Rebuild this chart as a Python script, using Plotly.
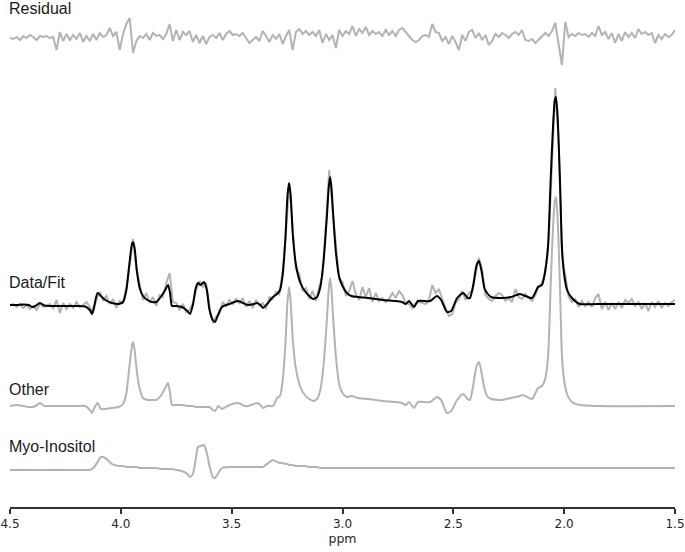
import numpy as np
import plotly.graph_objects as go

# chemical shift axis of the smooth traces (fit and model components), ppm
smooth_ppm = [
    4.500, 4.470, 4.440, 4.415, 4.400, 4.385, 4.365, 4.345, 4.320, 4.250,
    4.200, 4.160, 4.140, 4.130, 4.120, 4.105, 4.090, 4.070, 4.040, 4.010,
    3.990, 3.975, 3.962, 3.950, 3.945, 3.938, 3.928, 3.915, 3.900, 3.880,
    3.860, 3.840, 3.820, 3.800, 3.787, 3.778, 3.769, 3.750, 3.724, 3.700,
    3.688, 3.675, 3.662, 3.652, 3.640, 3.625, 3.612, 3.600, 3.585, 3.575,
    3.560, 3.544, 3.510, 3.471, 3.440, 3.426, 3.400, 3.386, 3.370, 3.359,
    3.340, 3.314, 3.295, 3.282, 3.270, 3.258, 3.248, 3.241, 3.234, 3.224,
    3.210, 3.190, 3.170, 3.150, 3.133, 3.115, 3.100, 3.085, 3.070, 3.062,
    3.056, 3.050, 3.042, 3.030, 3.015, 3.000, 2.980, 2.960, 2.930, 2.885,
    2.820, 2.760, 2.732, 2.715, 2.700, 2.677, 2.660, 2.605, 2.574, 2.555,
    2.529, 2.510, 2.483, 2.456, 2.435, 2.425, 2.410, 2.395, 2.384, 2.372,
    2.360, 2.348, 2.330, 2.280, 2.240, 2.200, 2.186, 2.145, 2.118, 2.100,
    2.087, 2.073, 2.061, 2.050, 2.042, 2.037, 2.030, 2.019, 2.010, 2.001,
    1.987, 1.965, 1.929, 1.850, 1.500,
]

fit = [
    0, 0, 0.5, 0, -2, -1, 2, -0.5, -1, -1,
    -1, -1.5, -5, -9, -1, 12, 9, 5, 2, 1,
    3, 15, 40, 61, 63, 57, 35, 17, 9, 5,
    3, 3, 8, 15, 20, 12, -1, -1, -2, -6,
    -9, 0, 17, 22, 20, 23, 15, -5, -15, -17,
    -9, -2, 1, 4, 1, 0, 1, 2, 0, -3,
    1, 8, 11, 15, 30, 65, 110, 122, 110, 70,
    40, 22, 14, 9, 6, 8, 18, 45, 90, 118,
    128, 118, 90, 53, 28, 19, 12, 9, 8, 7,
    5, 4, 3, 1, 4, -2, 4, 4, 9, 5,
    -7, -6, 7, 12, 7, 7, 20, 40, 44, 33,
    17, 12, 8, 7, 8, 11, 10, 7, 18, 20,
    32, 58, 125, 180, 205, 208, 190, 125, 58, 32,
    15, 7, 1, 1, 1,
]

other = [
    0, 1, 0, -1, -1, 0, 3, 0, 0, 0,
    0, 0, -4, -7, -2, 3, -3, -3, -2, -1,
    2, 13, 38, 60, 64, 56, 35, 17, 8, 6,
    6, 6, 10, 18, 23, 13, 1, 1, 1, 0,
    0, 0, -1, -1, -1, -1, -1, -1, -4, -5,
    0, -3, 1, 3, 0, 0, 2, 3, 1, -2,
    0, 0, 8, 10, 25, 60, 105, 119, 105, 65,
    37, 19, 11, 7, 5, 7, 16, 42, 88, 117,
    128, 117, 88, 50, 22, 13, 9, 10, 8, 7,
    5, 4, 3, 1, 4, -2, 4, 4, 9, 6,
    -7, -5, 6, 12, 7, 6, 21, 40, 44, 32,
    18, 10, 7, 6, 8, 10, 11, 7, 18, 20,
    26, 48, 120, 180, 205, 209, 190, 120, 50, 27,
    12, 4, 1, 0, 0,
]

myo_inositol = [
    -1, -1, -1, -1, -1, -1, -1, -1, -1, -1,
    -1, -1, -1, 0, 2, 7, 12, 11, 5, 3,
    3, 2, 2, 2, 2, 2, 2, 1, 1, 1,
    1, 1, 0, 0, 0, 0, 0, -1, -2, -5,
    -8, -5, 10, 22, 23, 24, 16, 3, -8, -9,
    -4, 1, 2, 2, 2, 2, 2, 2, 2, 2,
    5, 9, 7, 6, 6, 5, 5, 4, 4, 4,
    3, 3, 3, 2, 2, 2, 1, 1, 1, 1,
    1, 1, 1, 1, 1, 1, 1, 1, 1, 1,
    1, 1, 1, 1, 1, 1, 1, 1, 1, 1,
    1, 1, 1, 1, 1, 1, 1, 1, 1, 1,
    1, 1, 1, 1, 1, 1, 1, 1, 1, 1,
    1, 1, 1, 1, 1, 1, 1, 1, 1, 1,
    1, 1, 1, 1, 1,
]

# measured spectrum and residual are sampled every 0.015 ppm from 4.5 to 1.5
sample_ppm = np.round(np.linspace(4.5, 1.5, 201), 3)

data = [
    0, 1, -2, 1, -3, 0, -4, -1, -5, 1,
    -2, -1, 1, -3, 5, -8, 2, -4, 1, -3,
    3, -2, 0, 3, -2, -8, 6, 13, 5, 9,
    1, 6, -3, 4, 2, 18, 40, 66, 36, 20,
    5, 12, 2, 8, -1, 10, 8, 22, 32, 3,
    2, -5, 1, -7, -5, 2, 15, 24, 18, 22,
    -2, -18, -12, -9, 3, -1, 5, 1, 6, 2,
    7, -2, 4, -3, 5, -1, 2, -4, 8, 6,
    13, 11, 33, 72, 122, 76, 36, 31, 14, 17,
    6, 14, 4, 18, 30, 80, 135, 96, 57, 26,
    23, 9, 14, 24, 11, 5, 18, 8, 17, 3,
    12, 4, 7, 3, 6, 12, 7, 14, 10, 2,
    1, -3, 2, 3, 2, 1, 5, 20, 12, 16,
    6, -2, -11, -9, 2, 6, 14, 5, 12, 14,
    30, 47, 35, 10, 6, 4, 9, 12, 10, 4,
    7, 3, 16, 8, 6, 11, 7, 4, 10, 19,
    22, 33, 65, 145, 217, 165, 50, 30, 8, 3,
    6, -2, 4, -1, 3, -2, 7, 11, -4, 3,
    -5, 2, -4, 3, -3, 5, 2, 6, -1, 3,
    -4, 2, -6, 3, -2, 4, -3, 2, -1, 3,
    5,
]

residual = [
    0, -1, 1, -2, 2, 0, 3, 1, -2, 2,
    1, 2, 0, 1, -12, 6, -3, 4, -2, 3,
    -1, 5, -4, 2, -3, 4, -2, 5, 1, 3,
    10, 2, 6, -12, 4, 14, 20, -15, -3, 2,
    0, 4, -2, 5, 2, 3, -1, 4, 14, -3,
    8, -2, 6, 3, 7, -4, 3, -5, 2, -6,
    1, 3, 0, 5, -2, 4, 7, 3, 4, 2,
    5, 0, -5, -2, 1, -3, 7, 2, -4, 3,
    -1, 4, -6, 2, 8, -12, 6, 9, 4, 7,
    3, 6, 2, 8, -5, 4, -2, 3, -10, 8,
    2, 7, 4, 12, 2, 9, 5, 11, 3, 7,
    4, 6, 2, 8, 3, 7, 2, 8, 10, 6,
    2, -2, -4, -2, 2, 3, 1, 14, 6, 5,
    -3, 1, -6, 2, -4, -12, 3, -3, 6, 8,
    0, 5, -2, 3, -7, -3, 4, 1, 5, 3,
    0, 4, 6, 3, 8, -2, -3, -1, -5, -2,
    1, 5, 2, 7, 15, -5, -27, 16, 1, 4,
    2, 5, 3, 4, 1, 5, 2, 12, 3, 6,
    -1, 5, -5, 4, -3, 6, 1, 5, 0, 9,
    4, 6, 3, 5, -5, 3, -1, 4, 1, 3,
    8,
]

tick_ppm = [4.5, 4.0, 3.5, 3.0, 2.5, 2.0, 1.5]

# vertical stacking of the traces (plot units are pixels below the top)
OFFSETS = {"Residual": -38, "Data/Fit": -305, "Other": -406, "Myo-Inositol": -469}
LABEL_Y = {"Residual": -8, "Data/Fit": -282, "Other": -389, "Myo-Inositol": -446}

GREY = "#b3b3b3"
TEXT = "#1a1a1a"


def add_line(fig: go.Figure, x, y, offset: float, color: str, name: str,
             smooth: bool = False) -> None:
    """Add one spectrum line shifted to its row."""
    fig.add_trace(
        go.Scatter(
            x=x,
            y=np.asarray(y, dtype=float) + offset,
            mode="lines",
            line=dict(
                color=color,
                width=2,
                shape="spline" if smooth else "linear",
                smoothing=0.6,
            ),
            name=name,
            hoverinfo="skip",
        )
    )


fig = go.Figure()

add_line(fig, smooth_ppm, myo_inositol, OFFSETS["Myo-Inositol"], GREY, "Myo-Inositol", True)
add_line(fig, smooth_ppm, other, OFFSETS["Other"], GREY, "Other", True)
add_line(fig, sample_ppm, data, OFFSETS["Data/Fit"], GREY, "Data")
add_line(fig, smooth_ppm, fit, OFFSETS["Data/Fit"], "#000000", "Fit", True)
add_line(fig, sample_ppm, residual, OFFSETS["Residual"], GREY, "Residual")

for label, y in LABEL_Y.items():
    fig.add_annotation(
        x=0,
        xref="paper",
        y=y,
        yref="y",
        text=label,
        showarrow=False,
        xanchor="left",
        yanchor="middle",
        xshift=-3,
        font=dict(family="Liberation Sans, Arial, sans-serif", size=16, color=TEXT),
    )

fig.update_layout(
    width=685,
    height=552,
    margin=dict(l=10, r=10, t=0, b=45),
    paper_bgcolor="white",
    plot_bgcolor="white",
    showlegend=False,
    xaxis=dict(
        range=[4.5, 1.5],
        tickvals=tick_ppm,
        ticktext=[f"{t:.1f}" for t in tick_ppm],
        ticks="outside",
        ticklen=5,
        tickwidth=1.5,
        tickcolor="#333333",
        showline=True,
        linecolor="#333333",
        linewidth=1.5,
        showgrid=False,
        zeroline=False,
        tickfont=dict(family="DejaVu Sans", size=12, color="#262626"),
        title=dict(
            text="ppm",
            font=dict(family="DejaVu Sans", size=12.5, color="#262626"),
            standoff=4,
        ),
    ),
    yaxis=dict(range=[-507, 0], visible=False, fixedrange=True),
)

# drop the browser's default page margin so the figure sits at the window corner
fig.write_html(
    "out.html",
    config={"displayModeBar": False},
    post_script="document.body.style.margin = '0';",
)
